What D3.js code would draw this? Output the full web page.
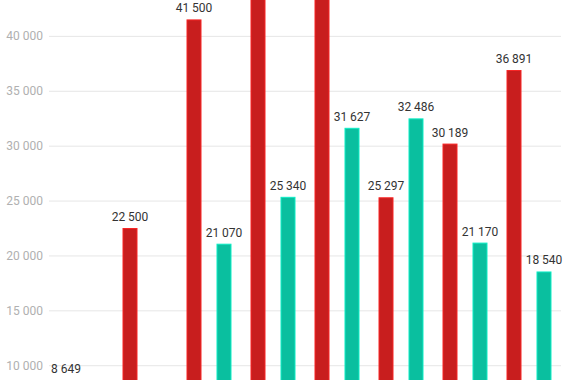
<!DOCTYPE html>
<html>
<head>
<meta charset="utf-8">
<script src="https://cdn.jsdelivr.net/npm/d3@7"></script>
<style>
  html, body { margin: 0; padding: 0; background: #fff; overflow: hidden; }
  svg { display: block; font-family: Roboto, "Noto Sans", sans-serif; }
</style>
</head>
<body>
<svg id="chart" width="570" height="380"></svg>
<script>
// Data
const categories = ["1", "2", "3", "4", "5", "6", "7", "8"];
const seriesNames = ["red", "teal"];
const redValues  = [8649, 22500, 41500, 47500, 49000, 25297, 30189, 36891];
const tealValues = [null, null, 21070, 25340, 31627, 32486, 21170, 18540];
const tickValues = [10000, 15000, 20000, 25000, 30000, 35000, 40000];
const colors = { red: "#C81E1E", teal: "#0ABF9F" };

const svg = d3.select("#chart");
const left = 49, right = 561;

const locale = d3.formatLocale({ decimal: ",", thousands: " ", grouping: [3], currency: ["", ""] });
const fmt = locale.format(",d");

const x0 = d3.scaleBand().domain(categories).range([left, right]).padding(0);
const x1 = d3.scaleBand().domain(seriesNames).range([0, x0.bandwidth()])
  .paddingInner(0.5).paddingOuter(0.317);
const y = d3.scaleLinear().domain([0, 45000]).range([475, -19]);

// gridlines + tick labels
const yAxis = d3.axisLeft(y).tickValues(tickValues).tickSize(-(right - left)).tickPadding(6).tickFormat(fmt);
const ga = svg.append("g").attr("transform", `translate(${left},0)`).call(yAxis);
ga.select(".domain").remove();
ga.selectAll(".tick line").attr("stroke", "#e6e6e6").attr("stroke-width", 1);
ga.selectAll(".tick text").attr("fill", "#b0b0b0").attr("font-size", 12)
  .attr("font-family", "Roboto, sans-serif");

const rows = categories.map((c, i) => ({ cat: c, red: redValues[i], teal: tealValues[i] }));

const groups = svg.append("g").selectAll("g").data(rows).join("g")
  .attr("transform", d => `translate(${x0(d.cat)},0)`);

const bars = groups.selectAll("g.bar")
  .data(d => seriesNames.filter(k => d[k] != null).map(k => ({ key: k, value: d[k] })))
  .join("g").attr("class", "bar");

bars.append("rect")
  .attr("x", d => x1(d.key) + 0.5)
  .attr("y", d => y(d.value) + 0.5)
  .attr("width", x1.bandwidth() - 1)
  .attr("height", d => y(0) - y(d.value))
  .attr("fill", d => colors[d.key])
  .attr("stroke", d => d3.color(colors[d.key]).brighter(0.6))
  .attr("stroke-width", 1);

bars.append("text")
  .attr("x", d => x1(d.key) + x1.bandwidth() / 2)
  .attr("y", d => y(d.value) - 7)
  .attr("text-anchor", "middle")
  .attr("font-size", 12)
  .attr("fill", "#333")
  .text(d => fmt(d.value));
</script>
</body>
</html>
